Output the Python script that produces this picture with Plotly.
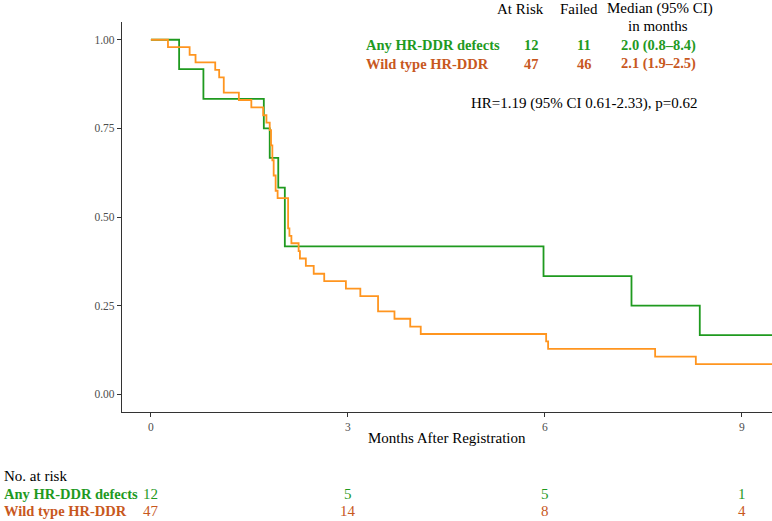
import plotly.graph_objects as go

# ---- data ----
hr_time = [0, 0.43, 0.80, 1.72, 1.81, 1.94, 2.04, 5.98, 7.32, 8.36, 9.8]
hr_surv = [1.0, 0.917, 0.833, 0.750, 0.667, 0.583, 0.417, 0.333, 0.250, 0.167, 0.167]

wt_time = [0, 0.26, 0.59, 0.68, 0.98, 1.04, 1.11, 1.34, 1.53, 1.71, 1.76, 1.81,
           1.83, 1.85, 1.87, 1.90, 1.93, 2.09, 2.11, 2.14, 2.25, 2.27, 2.36, 2.48,
           2.64, 2.97, 3.19, 3.46, 3.71, 3.95, 4.11, 6.02, 6.05, 7.68, 8.30, 9.8]
wt_surv = [1.0, 0.979, 0.957, 0.936, 0.915, 0.894, 0.851, 0.830, 0.809, 0.787, 0.766, 0.745,
           0.702, 0.660, 0.617, 0.574, 0.553, 0.468, 0.447, 0.426, 0.404, 0.383, 0.362, 0.340,
           0.319, 0.298, 0.277, 0.234, 0.213, 0.191, 0.170, 0.149, 0.128, 0.106, 0.085, 0.085]

group_names = ["Any HR-DDR defects", "Wild type HR-DDR"]
at_risk_total = ["12", "47"]
failed = ["11", "46"]
median_ci = ["2.0 (0.8\u20138.4)", "2.1 (1.9\u20132.5)"]
hr_text = "HR=1.19 (95% CI 0.61-2.33), p=0.62"

risk_times = [0, 3, 6, 9]
risk_hr = [12, 5, 5, 1]
risk_wt = [47, 14, 8, 4]

x_ticks = [0, 3, 6, 9]
y_ticks = [0.0, 0.25, 0.5, 0.75, 1.0]
y_ticklabels = ["0.00", "0.25", "0.50", "0.75", "1.00"]

# ---- styles ----
LINE_GREEN = "#1f9a1f"
LINE_ORANGE = "#ff951f"
TXT_GREEN = "#1f9a1f"
TXT_ORANGE = "#c8581e"
FONT = "Liberation Serif"
FS = 15
FSB = 14.5

W, H = 772, 521
L, R, T, B = 122, 772, 22, 412


def xp(px):
    return (px - L) / (R - L)


def yp(py):
    return (B - py) / (B - T)


fig = go.Figure()
fig.add_trace(go.Scatter(x=hr_time, y=hr_surv, mode="lines", line_shape="hv",
                         line=dict(color=LINE_GREEN, width=1.8), showlegend=False,
                         hoverinfo="skip"))
fig.add_trace(go.Scatter(x=wt_time, y=wt_surv, mode="lines", line_shape="hv",
                         line=dict(color=LINE_ORANGE, width=1.8), showlegend=False,
                         hoverinfo="skip"))

ann = []
# header of legend table
ann.append(dict(x=xp(520), y=yp(9), text="At Risk"))
ann.append(dict(x=xp(579), y=yp(9), text="Failed"))
ann.append(dict(x=xp(660), y=yp(9), text="Median (95% CI)"))
ann.append(dict(x=xp(658), y=yp(26), text="in months"))
for a in ann:
    a.update(xref="paper", yref="paper", showarrow=False, xanchor="center", yanchor="middle",
             font=dict(family=FONT, size=FS, color="#000000"))

row_y = [45, 64]
cols = [TXT_GREEN, TXT_ORANGE]
for i in range(2):
    f = dict(family=FONT, size=FSB, color=cols[i])
    ann.append(dict(x=xp(364), y=yp(row_y[i]), text="<b>%s</b>" % group_names[i], xanchor="left",
                    yanchor="middle", xref="paper", yref="paper", showarrow=False, font=f))
    ann.append(dict(x=xp(531), y=yp(row_y[i]), text="<b>%s</b>" % at_risk_total[i], xanchor="center",
                    yanchor="middle", xref="paper", yref="paper", showarrow=False, font=f))
    ann.append(dict(x=xp(584), y=yp(row_y[i]), text="<b>%s</b>" % failed[i], xanchor="center",
                    yanchor="middle", xref="paper", yref="paper", showarrow=False, font=f))
    ann.append(dict(x=xp(658), y=yp(row_y[i]), text="<b>%s</b>" % median_ci[i], xanchor="center",
                    yanchor="middle", xref="paper", yref="paper", showarrow=False, font=f))

ann.append(dict(x=xp(469), y=yp(103), text=hr_text, xanchor="left", yanchor="middle",
                xref="paper", yref="paper", showarrow=False,
                font=dict(family=FONT, size=FS, color="#000000")))

# x-axis title
ann.append(dict(x=0.5, y=yp(438), text="Months After Registration", xanchor="center",
                yanchor="middle", xref="paper", yref="paper", showarrow=False,
                font=dict(family=FONT, size=15, color="#000000")))

# risk table
ann.append(dict(x=xp(2), y=yp(476), text="No. at risk", xanchor="left", yanchor="middle",
                xref="paper", yref="paper", showarrow=False,
                font=dict(family=FONT, size=FS, color="#000000")))
tab_y = [494, 511]
tab_vals = [risk_hr, risk_wt]
for i in range(2):
    ann.append(dict(x=xp(2), y=yp(tab_y[i]), text="<b>%s</b>" % group_names[i], xanchor="left",
                    yanchor="middle", xref="paper", yref="paper", showarrow=False,
                    font=dict(family=FONT, size=FSB, color=cols[i])))
    for t, v in zip(risk_times, tab_vals[i]):
        ann.append(dict(x=t, y=yp(tab_y[i]), text=str(v), xanchor="center", yanchor="middle",
                        xref="x", yref="paper", showarrow=False,
                        font=dict(family=FONT, size=FS, color=cols[i])))

fig.update_layout(
    width=W, height=H,
    margin=dict(l=L, r=W - R, t=T, b=H - B),
    paper_bgcolor="white", plot_bgcolor="white",
    annotations=ann,
    hovermode=False,
    xaxis=dict(range=[-0.44, 9.46], tickvals=x_ticks, ticks="outside", ticklen=4, tickwidth=1,
               tickcolor="#333333", showline=True, linecolor="#333333", linewidth=1.2,
               showgrid=False, zeroline=False,
               tickfont=dict(family=FONT, size=11.5, color="#4d4d4d")),
    yaxis=dict(range=[-0.05, 1.05], tickvals=y_ticks, ticktext=y_ticklabels, ticks="outside",
               ticklen=4, tickwidth=1, tickcolor="#333333", showline=True, linecolor="#333333",
               linewidth=1.2, showgrid=False, zeroline=False,
               tickfont=dict(family=FONT, size=11.5, color="#4d4d4d")),
)

fig.write_html("out.html", config={"displayModeBar": False},
               post_script="document.body.style.margin='0';document.body.style.padding='0';"
                           "document.body.style.overflow='hidden';")
